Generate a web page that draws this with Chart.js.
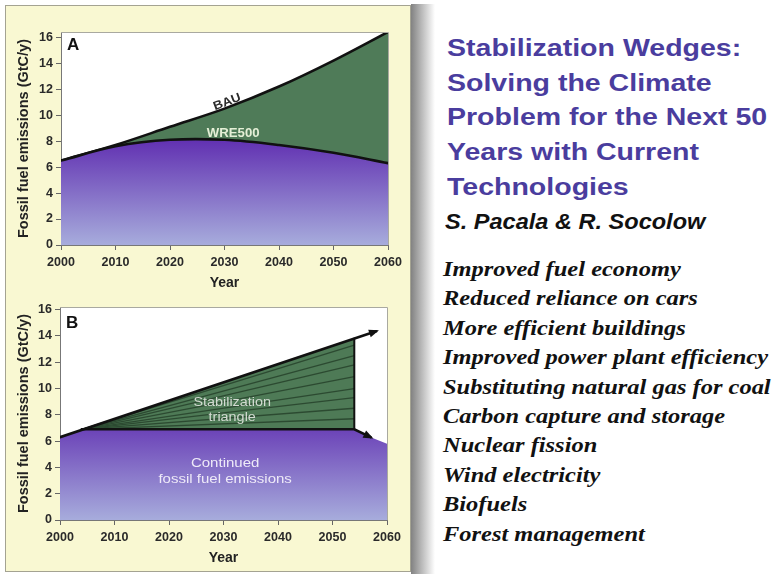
<!DOCTYPE html>
<html>
<head>
<meta charset="utf-8">
<script src="https://cdn.jsdelivr.net/npm/chart.js@4.4.1/dist/chart.umd.min.js"></script>
<style>
  body { margin:0; width:775px; height:574px; background:#fff; position:relative; overflow:hidden; font-family:"Liberation Sans", Arial, sans-serif; }
  #panel { position:absolute; left:5px; top:5px; width:404px; height:565px; background:#f9f8d2; border:1px solid #a4a392; }
  #shadow { position:absolute; left:411px; top:4px; width:24px; height:570px; background:linear-gradient(to right, #828282, #ffffff); }
  canvas { position:absolute; left:0; }
  #chartA { top:0; }
  #chartB { top:290px; }
  .title { position:absolute; left:447px; top:31px; color:#4a3d9e; font:bold 23px/34.7px "Liberation Sans", Arial, sans-serif; white-space:nowrap; }
  .title div { transform:scaleX(1.24); transform-origin:0 50%; }
  .authors { position:absolute; left:445px; top:207px; color:#111; font:italic bold 22px/30px "Liberation Sans", Arial, sans-serif; white-space:nowrap; transform:scaleX(1.07); transform-origin:0 50%; }
  .list { position:absolute; left:443px; top:255px; color:#111; font:italic bold 21px/29.4px "Liberation Serif", "Times New Roman", serif; white-space:nowrap; }
  .list div { transform:scaleX(1.165); transform-origin:0 50%; }
</style>
</head>
<body>
<div id="panel"></div>
<div id="shadow"></div>
<canvas id="chartA" width="410" height="292"></canvas>
<canvas id="chartB" width="410" height="277"></canvas>

<div class="title">
  <div>Stabilization Wedges:</div>
  <div>Solving the Climate</div>
  <div>Problem for the Next 50</div>
  <div>Years with Current</div>
  <div>Technologies</div>
</div>
<div class="authors">S. Pacala &amp; R. Socolow</div>
<div class="list" id="wedgeList"></div>

<script>
// ==== DONNÉES ====

// Panneau A
const yearsA = [2000, 2010, 2020, 2030, 2040, 2050, 2060];
const bauValues = [6.5, 7.7, 9.1, 10.5, 12.2, 14.2, 16.4];
const wreValues = [6.5, 7.6, 8.1, 8.1, 7.7, 7.1, 6.3];

// Panneau B
const rampYears = [2000, 2058];
const rampValues = [6.3, 14.35];
const baseYears = [2004, 2054, 2057];
const baseValues = [6.9, 6.9, 6.3];
const triangleYears = [2004, 2054];
const triangleTop = [6.9, 13.8];
const triangleBase = 6.9;
const wedgeEnds = [7.7, 8.5, 9.3, 10.0, 10.9, 11.8, 12.5, 13.3];
const continuedYears = [2000, 2004, 2054, 2057, 2060];
const continuedValues = [6.3, 6.9, 6.9, 6.3, 5.8];

const wedgeNames = [
  'Improved fuel economy',
  'Reduced reliance on cars',
  'More efficient buildings',
  'Improved power plant efficiency',
  'Substituting natural gas for coal',
  'Carbon capture and storage',
  'Nuclear fission',
  'Wind electricity',
  'Biofuels',
  'Forest management'
];

// ==== OUTILS ====

function pts(xs, ys) {
  return xs.map((x, i) => ({ x: x, y: ys[i] }));
}

function purpleGradient(ctx) {
  const chart = ctx.chart;
  const area = chart.chartArea;
  if (!area) return '#7a5fc0';
  const g = chart.ctx.createLinearGradient(0, chart.scales.y.getPixelForValue(8), 0, area.bottom);
  g.addColorStop(0, '#6232b2');
  g.addColorStop(1, '#a7acdc');
  return g;
}

function axes(yMax, yWidth) {
  const fam = '"Liberation Sans", Arial, sans-serif';
  const tickFont = { family: fam, size: 12.5, weight: 'bold' };
  return {
    x: {
      type: 'linear', min: 2000, max: 2060,
      afterFit: s => { s.height = 47; },
      ticks: { stepSize: 10, color: '#2a2a2a', font: tickFont, padding: 5, maxRotation: 0, callback: v => String(v) },
      grid: { drawOnChartArea: false, tickLength: 5, color: '#666' },
      border: { color: '#777' },
      title: { display: true, text: 'Year', color: '#222', font: { family: fam, size: 14, weight: 'bold' }, padding: { top: 2, bottom: 0 } }
    },
    y: {
      min: 0, max: yMax,
      afterFit: s => { s.width = yWidth; },
      ticks: { stepSize: 2, includeBounds: false, color: '#2a2a2a', font: tickFont, padding: 3 },
      grid: { drawOnChartArea: false, tickLength: 5, color: '#666' },
      border: { color: '#777' },
      title: { display: true, text: 'Fossil fuel emissions (GtC/y)', color: '#222', font: { family: fam, size: 14.5, weight: 'bold' }, padding: { top: 15, bottom: 0 } }
    }
  };
}

// Fond blanc + cadre gris de la zone de tracé
const framePlugin = {
  id: 'frame',
  beforeDraw(chart) {
    const a = chart.chartArea, c = chart.ctx;
    c.save();
    c.fillStyle = '#ffffff';
    c.fillRect(a.left, a.top, a.right - a.left, a.bottom - a.top);
    c.restore();
  },
  afterDraw(chart) {
    const a = chart.chartArea, c = chart.ctx;
    c.save();
    c.strokeStyle = '#a9a9a0';
    c.lineWidth = 1;
    c.beginPath();
    c.moveTo(a.left, a.top + 0.5);
    c.lineTo(a.right + 0.5, a.top + 0.5);
    c.lineTo(a.right + 0.5, a.bottom);
    c.stroke();
    c.restore();
  }
};

// Textes placés en coordonnées de données
const notesPlugin = {
  id: 'notes',
  afterDatasetsDraw(chart, args, opts) {
    const c = chart.ctx, sx = chart.scales.x, sy = chart.scales.y, a = chart.chartArea;
    c.save();
    c.textAlign = 'center';
    c.textBaseline = 'middle';
    (opts.items || []).forEach(it => {
      c.save();
      c.font = it.font;
      c.fillStyle = it.color;
      c.translate(sx.getPixelForValue(it.x), sy.getPixelForValue(it.y));
      c.rotate((it.rotate || 0) * Math.PI / 180);
      c.scale(it.stretch || 1, 1);
      c.fillText(it.text, 0, 0);
      c.restore();
    });
    if (opts.panel) {
      c.font = 'bold 17px "Liberation Sans", Arial, sans-serif';
      c.fillStyle = '#111';
      c.textAlign = 'left';
      c.fillText(opts.panel, a.left + 6, a.top + (opts.panelY || 13));
    }
    c.restore();
  }
};

// Pointes de flèche au bout de certaines lignes
const arrowPlugin = {
  id: 'arrows',
  afterDatasetsDraw(chart, args, opts) {
    const c = chart.ctx;
    (opts.datasets || []).forEach(i => {
      const pts = chart.getDatasetMeta(i).data;
      const p1 = pts[pts.length - 1], p0 = pts[pts.length - 2];
      const ang = Math.atan2(p1.y - p0.y, p1.x - p0.x);
      c.save();
      c.translate(p1.x, p1.y);
      c.rotate(ang);
      c.fillStyle = '#111';
      c.beginPath();
      c.moveTo(3, 0);
      c.lineTo(-7, -4);
      c.lineTo(-7, 4);
      c.closePath();
      c.fill();
      c.restore();
    });
  }
};

Chart.register(framePlugin, notesPlugin, arrowPlugin);

const common = {
  responsive: false,
  animation: false,
  events: [],
  devicePixelRatio: 1,
  elements: { point: { radius: 0 }, line: { borderCapStyle: 'round' } }
};

const sans = '"Liberation Sans", Arial, sans-serif';

// ==== GRAPHIQUE A ====
new Chart(document.getElementById('chartA'), {
  type: 'line',
  data: {
    datasets: [{
      label: 'WRE500',
      data: pts(yearsA, wreValues),
      borderColor: '#111',
      borderWidth: 2.6,
      tension: 0.35,
      backgroundColor: purpleGradient,
      fill: 'origin'
    }, {
      label: 'BAU',
      data: pts(yearsA, bauValues),
      borderColor: '#111',
      borderWidth: 2.6,
      tension: 0.35,
      backgroundColor: '#4f7b58',
      fill: 0
    }]
  },
  options: Object.assign({}, common, {
    layout: { padding: { top: 32, right: 22, bottom: 0, left: 0 } },
    scales: axes(16.4, 61),
    plugins: {
      legend: { display: false },
      tooltip: { enabled: false },
      notes: {
        panel: 'A',
        panelY: 13,
        items: [
          { text: 'BAU', x: 2030.5, y: 11.0, rotate: -21, stretch: 1.1, color: '#2a2a2a', font: 'bold 12px ' + sans },
          { text: 'WRE500', x: 2031.6, y: 8.6, stretch: 1.1, color: '#e4efd6', font: 'bold 12px ' + sans }
        ]
      },
      arrows: { datasets: [] }
    }
  })
});

// ==== GRAPHIQUE B ====
const wedgeSets = wedgeEnds.map(v => ({
  data: pts(triangleYears, [triangleBase, v]),
  borderColor: '#2c4a31',
  borderWidth: 1.3,
  fill: false
}));

new Chart(document.getElementById('chartB'), {
  type: 'line',
  data: {
    datasets: [{
      label: 'Trajectoire actuelle',
      data: pts(rampYears, rampValues),
      borderColor: '#111',
      borderWidth: 2.6,
      fill: false
    }, {
      label: 'Émissions stabilisées',
      data: pts(baseYears, baseValues),
      borderColor: '#111',
      borderWidth: 2.6,
      fill: false
    }, {
      label: 'Bord du triangle',
      data: pts([triangleYears[1], triangleYears[1]], [triangleBase, triangleTop[1]]),
      borderColor: '#111',
      borderWidth: 2,
      fill: false
    }].concat(wedgeSets, [{
      label: 'Triangle de stabilisation',
      data: pts(triangleYears, triangleTop),
      borderWidth: 0,
      backgroundColor: '#4e7a56',
      fill: { value: triangleBase }
    }, {
      label: 'Émissions continues',
      data: pts(continuedYears, continuedValues),
      borderWidth: 0,
      backgroundColor: purpleGradient,
      fill: 'origin'
    }])
  },
  options: Object.assign({}, common, {
    layout: { padding: { top: 17, right: 23, bottom: 0, left: 0 } },
    scales: axes(16.2, 60),
    plugins: {
      legend: { display: false },
      tooltip: { enabled: false },
      notes: {
        panel: 'B',
        panelY: 16,
        items: [
          { text: 'Stabilization', x: 2031.6, y: 8.9, stretch: 1.2, color: '#d3dbd2', font: '12px ' + sans },
          { text: 'triangle', x: 2031.6, y: 7.75, stretch: 1.2, color: '#d3dbd2', font: '12px ' + sans },
          { text: 'Continued', x: 2030.3, y: 4.33, stretch: 1.2, color: '#eeeaf8', font: '12.5px ' + sans },
          { text: 'fossil fuel emissions', x: 2030.3, y: 3.04, stretch: 1.2, color: '#eeeaf8', font: '12.5px ' + sans }
        ]
      },
      arrows: { datasets: [0, 1] }
    }
  })
});

// Liste des technologies
const list = document.getElementById('wedgeList');
wedgeNames.forEach(n => {
  const d = document.createElement('div');
  d.textContent = n;
  list.appendChild(d);
});
</script>
</body>
</html>
